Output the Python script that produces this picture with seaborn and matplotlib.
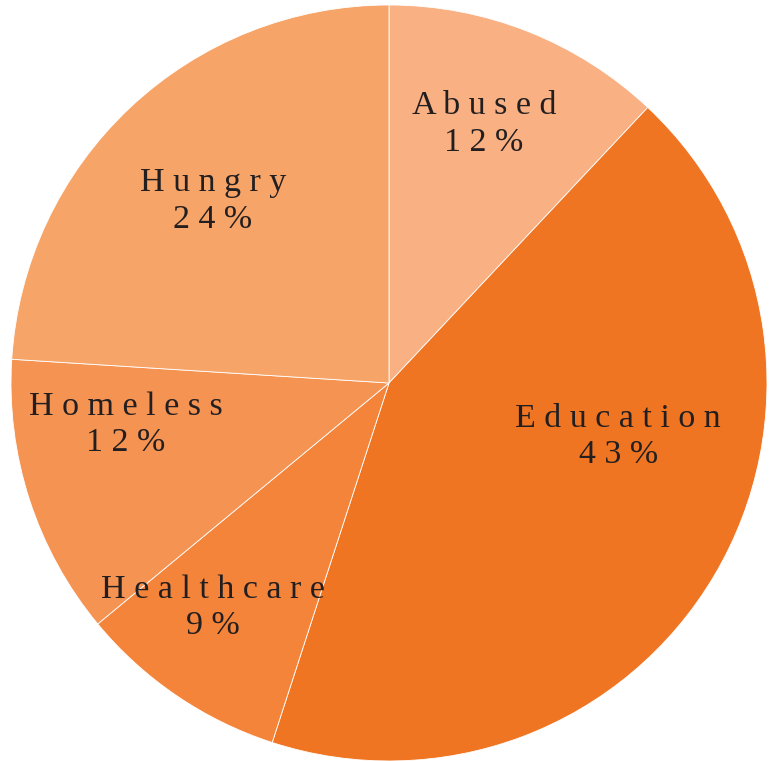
import matplotlib
matplotlib.use("Agg")
import matplotlib.pyplot as plt
import seaborn as sns

categories = ["Abused", "Education", "Healthcare", "Homeless", "Hungry"]
values = [12, 43, 9, 12, 24]
colors = ["#F9B083", "#F07522", "#F4843A", "#F59353", "#F7A468"]

# label centres in axes data units (pie radius = 1)
label_pos = [(0.251, 0.685), (0.606, -0.143), (-0.466, -0.595), (-0.696, -0.111), (-0.466, 0.481)]

sns.set_theme(style="white")
plt.rcParams["font.family"] = ["Liberation Serif", "DejaVu Serif"]

fig = plt.figure(figsize=(7.78, 7.61), dpi=100)
ax = fig.add_axes([11 / 778, 0, 756 / 778, 756 / 761])
wedges, _ = ax.pie(values, colors=sns.color_palette(colors), startangle=90, counterclock=False,
                   radius=1, wedgeprops=dict(edgecolor="white", linewidth=0.6))
ax.set_xlim(-1, 1)
ax.set_ylim(-1, 1)
ax.set_aspect("equal")
ax.axis("off")

def spaced(s):
    return " ".join(list(s))

for cat, val, (x, y) in zip(categories, values, label_pos):
    ax.text(x, y, spaced(cat) + "\n" + spaced(f"{val}%"), ha="center", va="center",
            fontsize=24.5, color="#231f20", linespacing=1.25)

fig.savefig("out.png", dpi=100)
